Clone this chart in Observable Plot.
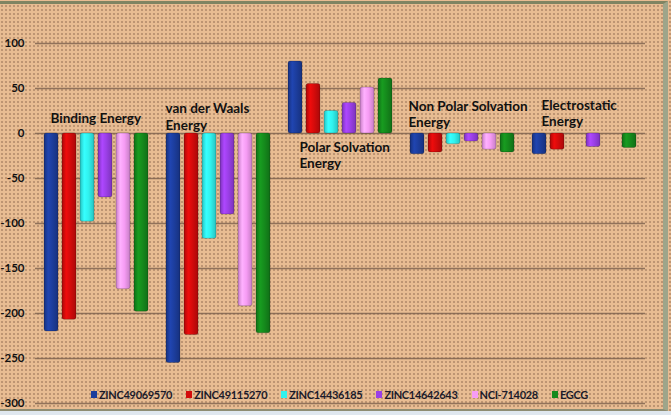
<!DOCTYPE html>
<html>
<head>
<meta charset="utf-8">
<script src="https://cdn.jsdelivr.net/npm/d3@7"></script>
<script src="https://cdn.jsdelivr.net/npm/@observablehq/plot@0.6"></script>
<style>
  html, body { margin: 0; padding: 0; background: #dfe7ef; }
  #wrap {
    position: relative; width: 671px; height: 415px; overflow: hidden;
    background-color: #e8bc92;
    background-image: radial-gradient(circle, rgba(130,95,70,0.42) 0.9px, rgba(0,0,0,0) 1.3px);
    background-size: 4px 4px;
  }
  #frame {
    position: absolute; left: 0; top: 1px; width: 663px; height: 405px;
    border-top: 3px solid #7f8462; border-right: 5px solid #9ea58a; border-bottom: 2px solid #8d8c72;
    pointer-events: none;
  }
  #below { position: absolute; left: 0; top: 411px; width: 671px; height: 4px; background: #dfe7ef; }
  #plot { position: absolute; left: 0; top: 0; }
  #legend {
    position: absolute; left: 91px; top: 388px; display: flex; align-items: center;
    font-family: Lato, "Open Sans", sans-serif; font-weight: bold; font-size: 11px; color: #1a1a2a;
    letter-spacing: -0.3px;
  }
  #legend .item { display: flex; align-items: center; margin-right: 14px; }
  #legend .sw { width: 6px; height: 7px; margin-right: 2px; }
</style>
</head>
<body>
<div id="wrap">
  <div id="plot"></div>
  <div id="legend"></div>
  <div id="frame"></div>
  <div id="below"></div>
</div>
<script>
const categories = ["Binding Energy", "van der Waals Energy", "Polar Solvation Energy", "Non Polar Solvation Energy", "Electrostatic Energy"];
const compounds = ["ZINC49069570", "ZINC49115270", "ZINC14436185", "ZINC14642643", "NCI-714028", "EGCG"];
const colors = ["#1c3d9c", "#d30b0b", "#30f2ee", "#9a3fe6", "#f69cf4", "#158a1c"];
// values per category, in compound order
const binding       = [-220, -207, -98, -71, -173, -198];
const vanDerWaals   = [-255, -224, -117, -90, -192, -222];
const polarSolv     = [80, 55, 25, 34, 51, 61];
const nonPolarSolv  = [-23, -21, -12, -9, -18, -21];
const electrostatic = [-23, -18, 0, -15, 0, -16];
const yTicks = [100, 50, 0, -50, -100, -150, -200, -250, -300];
const labelLines = ["Binding Energy", "van der Waals\nEnergy", "Polar Solvation\nEnergy", "Non Polar Solvation\nEnergy", "Electrostatic\nEnergy"];
const labelY = [17, 19, -24, 22, 23];

const series = [binding, vanDerWaals, polarSolv, nonPolarSolv, electrostatic];
const data = [];
categories.forEach((c, i) => compounds.forEach((k, j) => data.push({category: c, compound: k, value: series[i][j]})));
const labels = categories.map((c, i) => ({category: c, text: labelLines[i], y: labelY[i]}));
const labelDx = [15, 8, 20, 7, 18];

const gradIds = colors.map((c, i) => `url(#bg${i})`);

const labelMarks = labels.map((l, i) => Plot.text([l], {
  fx: "category", y: "y", text: "text", frameAnchor: "left", dx: labelDx[i],
  textAnchor: "start", lineHeight: 1.2, fontSize: 13.5, fontWeight: "bold", fill: "#111"
}));

const svg = Plot.plot({
  width: 671, height: 415,
  marginLeft: 35, marginRight: 26, marginTop: 43, marginBottom: 12,
  style: {background: "transparent", fontFamily: "Lato, 'Open Sans', sans-serif", overflow: "visible"},
  fx: {domain: categories, padding: 0, axis: null},
  x: {domain: compounds, paddingInner: 0.24, paddingOuter: 0.42, axis: null},
  y: {domain: [-300, 100], axis: null},
  color: {domain: compounds, range: gradIds},
  marks: [
    Plot.ruleY(yTicks, {stroke: "#7a5f4c", strokeWidth: 1.5, strokeOpacity: 0.8}),
    Plot.barY(data, {fx: "category", x: "compound", y: "value", fill: "compound", stroke: "rgba(0,0,0,0.35)", strokeWidth: 0.6, rx: 2}),
    ...labelMarks,
    Plot.axisY(yTicks, {tickSize: 0, tickPadding: 11, fontSize: 11.5, fontWeight: "bold", fill: "#111", tickFormat: d => String(d)})
  ]
});

// gradients for glossy bars
const ns = "http://www.w3.org/2000/svg";
const defs = document.createElementNS(ns, "defs");
colors.forEach((c, i) => {
  const g = document.createElementNS(ns, "linearGradient");
  g.setAttribute("id", `bg${i}`);
  g.setAttribute("x1", "0"); g.setAttribute("x2", "1"); g.setAttribute("y1", "0"); g.setAttribute("y2", "0");
  const dark = d3.color(c).darker(0.6).formatHex();
  const light = d3.color(c).brighter(0.35).formatHex();
  [[0, dark], [0.3, light], [0.6, c], [1, dark]].forEach(([o, col]) => {
    const s = document.createElementNS(ns, "stop");
    s.setAttribute("offset", o); s.setAttribute("stop-color", col);
    g.appendChild(s);
  });
  defs.appendChild(g);
});
svg.insertBefore(defs, svg.firstChild);
document.getElementById("plot").appendChild(svg);

const legend = document.getElementById("legend");
compounds.forEach((k, i) => {
  const item = document.createElement("div");
  item.className = "item";
  const sw = document.createElement("div");
  sw.className = "sw"; sw.style.background = colors[i];
  const t = document.createElement("span");
  t.textContent = k;
  item.appendChild(sw); item.appendChild(t);
  legend.appendChild(item);
});
</script>
</body>
</html>
